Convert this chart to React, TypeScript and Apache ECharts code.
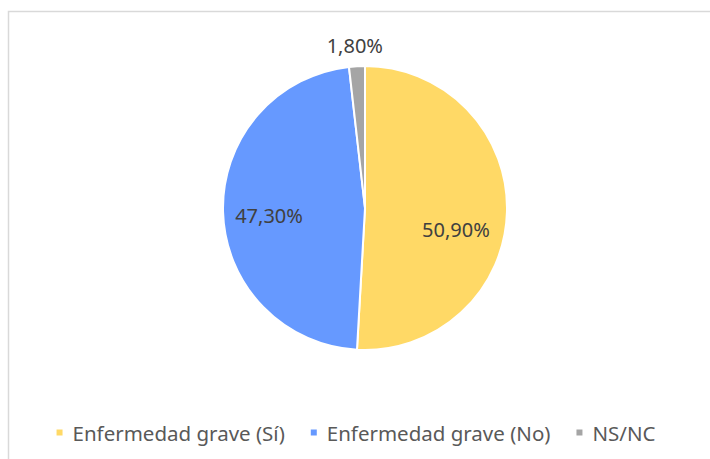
import React, { useEffect, useRef } from "react";
import * as echarts from "echarts";

const categories = ["Enfermedad grave (Sí)", "Enfermedad grave (No)", "NS/NC"];
const values = [50.9, 47.3, 1.8];
const colors = ["#FFD966", "#6699FF", "#A5A5A5"];
const labelOffsets = [[17, 19], [-22, 5], [-6, -89]];

export default function App() {
  const ref = useRef<HTMLDivElement>(null);
  useEffect(() => {
    const chart = echarts.init(ref.current!, null, { renderer: "svg" });
    chart.setOption({
      animation: false,
      backgroundColor: "#ffffff",
      graphic: [
        {
          type: "rect",
          shape: { x: 8.5, y: 11.5, width: 720, height: 460 },
          style: { fill: "none", stroke: "#d9d9d9", lineWidth: 1.5 },
          silent: true,
        },
      ],
      legend: {
        top: 417,
        left: "center",
        icon: "rect",
        itemWidth: 8,
        itemHeight: 8,
        itemGap: 24,
        textStyle: { fontSize: 20.5, color: "#595959", fontFamily: "Noto Sans", padding: [0, 0, 0, 4] },
        data: categories,
      },
      series: [
        {
          type: "pie",
          center: [365, 208],
          radius: [0, 142],
          startAngle: 90,
          clockwise: true,
          itemStyle: { borderColor: "#ffffff", borderWidth: 2 },
          labelLine: { show: false },
          label: {
            show: true,
            position: "inside",
            fontSize: 20,
            color: "#404040",
            fontFamily: "Noto Sans",
            formatter: (p: any) => p.value.toFixed(2).replace(".", ",") + "%",
          },
          data: categories.map((c, i) => ({
            name: c,
            value: values[i],
            itemStyle: { color: colors[i] },
            label: { offset: labelOffsets[i] },
          })),
        },
      ],
    });
    return () => chart.dispose();
  }, []);
  return (
    <div
      ref={ref}
      style={{ position: "fixed", left: 0, top: 0, width: 710, height: 459 }}
    />
  );
}
